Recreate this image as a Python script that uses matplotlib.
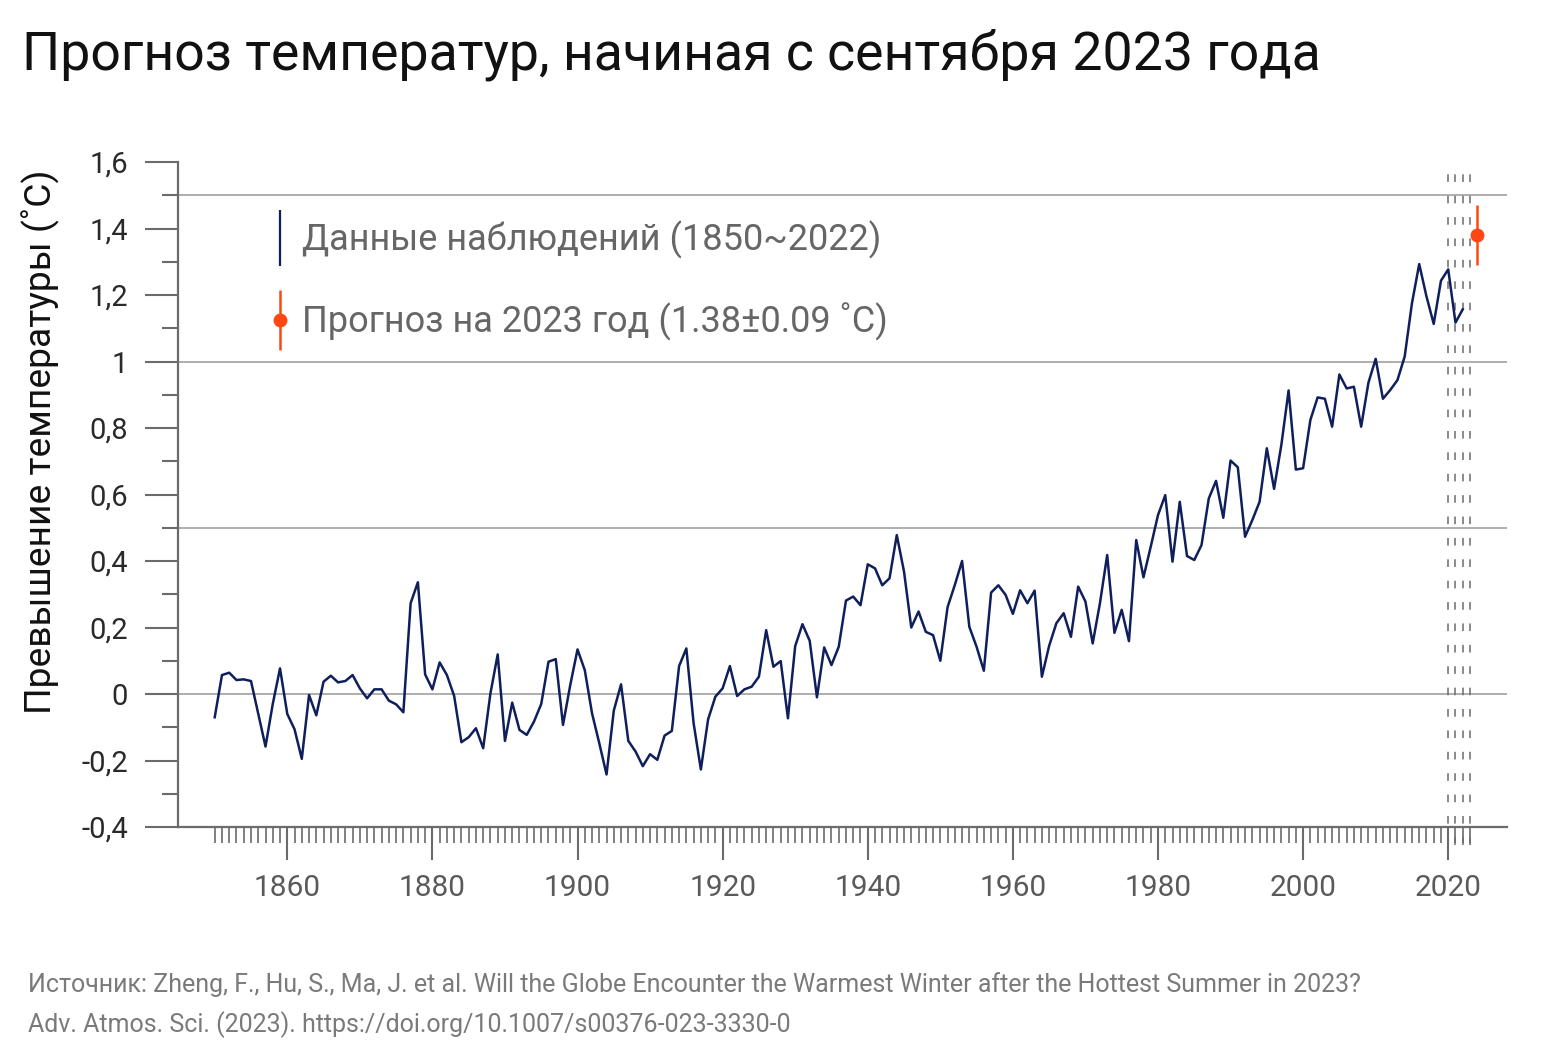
import numpy as np
import matplotlib
matplotlib.use("Agg")
import matplotlib.pyplot as plt
from matplotlib.lines import Line2D

plt.rcParams['font.family'] = ['Roboto', 'DejaVu Sans']

# ---------------- data ----------------
start_year = 1850
anomaly = [
    -0.070, 0.057, 0.064, 0.042, 0.044, 0.039, -0.060, -0.158, -0.030, 0.077,   # 1850-59
    -0.060, -0.106, -0.195, -0.003, -0.064, 0.037, 0.055, 0.035, 0.039, 0.057,  # 1860-69
    0.017, -0.013, 0.014, 0.014, -0.020, -0.031, -0.055, 0.273, 0.336, 0.059,   # 1870-79
    0.014, 0.095, 0.057, -0.006, -0.145, -0.130, -0.103, -0.163, 0.002, 0.119,  # 1880-89
    -0.141, -0.026, -0.108, -0.123, -0.083, -0.030, 0.097, 0.105, -0.093, 0.027, # 1890-99
    0.134, 0.072, -0.058, -0.148, -0.242, -0.050, 0.029, -0.141, -0.173, -0.217, # 1900-09
    -0.181, -0.198, -0.125, -0.111, 0.084, 0.137, -0.088, -0.227, -0.076, -0.008, # 1910-19
    0.017, 0.084, -0.006, 0.014, 0.022, 0.052, 0.192, 0.082, 0.099, -0.073,     # 1920-29
    0.144, 0.210, 0.160, -0.010, 0.140, 0.087, 0.142, 0.281, 0.293, 0.267,      # 1930-39
    0.390, 0.378, 0.327, 0.348, 0.478, 0.368, 0.200, 0.248, 0.187, 0.177,       # 1940-49
    0.100, 0.261, 0.328, 0.400, 0.202, 0.142, 0.070, 0.305, 0.327, 0.298,       # 1950-59
    0.241, 0.312, 0.273, 0.311, 0.052, 0.145, 0.213, 0.243, 0.172, 0.323,       # 1960-69
    0.278, 0.152, 0.273, 0.418, 0.184, 0.253, 0.159, 0.463, 0.351, 0.443,       # 1970-79
    0.538, 0.598, 0.398, 0.578, 0.415, 0.403, 0.448, 0.588, 0.641, 0.530,       # 1980-89
    0.702, 0.682, 0.473, 0.523, 0.578, 0.739, 0.617, 0.749, 0.913, 0.675,       # 1990-99
    0.679, 0.824, 0.892, 0.888, 0.804, 0.961, 0.919, 0.924, 0.804, 0.936,       # 2000-09
    1.008, 0.888, 0.914, 0.944, 1.015, 1.175, 1.293, 1.196, 1.113, 1.243,       # 2010-19
    1.277, 1.117, 1.157,                                                        # 2020-22
]
years = np.arange(start_year, start_year + len(anomaly))

forecast_year_pos = 2024
forecast_value = 1.38
forecast_err = 0.09

dashed_years = [2020, 2021, 2022, 2023]
grid_levels = [0, 0.5, 1.0, 1.5]
ytick_values = [-0.4, -0.2, 0, 0.2, 0.4, 0.6, 0.8, 1.0, 1.2, 1.4, 1.6]
ytick_labels = ["-0,4", "-0,2", "0", "0,2", "0,4", "0,6", "0,8", "1", "1,2", "1,4", "1,6"]
xtick_values = [1860, 1880, 1900, 1920, 1940, 1960, 1980, 2000, 2020]

title = "Прогноз температур, начиная с сентября 2023 года"
ylabel = "Превышение температуры (˚C)"
legend_obs = "Данные наблюдений (1850~2022)"
legend_fc = "Прогноз на 2023 год (1.38±0.09 ˚C)"
source1 = "Источник: Zheng, F., Hu, S., Ma, J. et al. Will the Globe Encounter the Warmest Winter after the Hottest Summer in 2023?"
source2 = "Adv. Atmos. Sci. (2023). https://doi.org/10.1007/s00376-023-3330-0"

# ---------------- styles ----------------
navy = "#0f1f5c"
orange = "#ff4713"
axis_gray = "#6b6b6b"
grid_gray = "#a8a8a8"
label_gray = "#5a5a5a"

fig = plt.figure(figsize=(15.5, 10.63), dpi=100)
ax = fig.add_axes([178/1550, 1-827/1063, (1507-178)/1550, (827-162)/1063])

ax.set_xlim(1844.94, 2028.1)
ax.set_ylim(-0.4, 1.6)

for g in grid_levels:
    ax.axhline(g, color=grid_gray, lw=1.3, zorder=1)

ax.vlines(dashed_years, -0.455, 1.575, colors=axis_gray, lw=1.1,
          linestyles=(0, (5, 9)), clip_on=False, zorder=2)

ax.plot(years, anomaly, color=navy, lw=1.8, zorder=3)
ax.errorbar([forecast_year_pos], [forecast_value], yerr=[forecast_err],
            fmt='o', color=orange, ms=9, elinewidth=1.8, capsize=0, zorder=4)

# spines
for s in ["top", "right"]:
    ax.spines[s].set_visible(False)
for s in ["left", "bottom"]:
    ax.spines[s].set_color(axis_gray)
    ax.spines[s].set_linewidth(1.6)

# ticks
ax.set_yticks(ytick_values)
ax.set_yticklabels(ytick_labels)
ax.set_yticks(np.arange(-0.3, 1.6, 0.2), minor=True)
ax.set_xticks(xtick_values)
ax.set_xticklabels([str(v) for v in xtick_values])
ax.set_xticks(np.arange(1850, 2024, 1), minor=True)

ax.tick_params(axis='y', which='major', length=24, width=1.5, color=axis_gray,
               labelsize=21, labelcolor="#2a2a2a", pad=12)
ax.tick_params(axis='y', which='minor', length=11.5, width=1.5, color=axis_gray)
ax.tick_params(axis='x', which='major', length=24, width=1.5, color=axis_gray,
               labelsize=21.5, labelcolor=label_gray, pad=10)
ax.tick_params(axis='x', which='minor', length=11.5, width=1.2, color=axis_gray)

ax.set_ylabel(ylabel, fontsize=26.8, color="#111111")
ax.yaxis.set_label_coords(-0.089, 0.58)

# legend
h_obs = Line2D([], [], color=navy, marker='|', ms=40, mew=1.6, ls='None')
h_fc_bar = Line2D([], [], color=orange, marker='|', ms=43, mew=1.8, ls='None')
h_fc_dot = Line2D([], [], color=orange, marker='o', ms=9, ls='None')
leg = ax.legend([h_obs, (h_fc_bar, h_fc_dot)], [legend_obs, legend_fc],
                loc='upper left', bbox_to_anchor=(0.058, 0.933), frameon=False,
                fontsize=26, handlelength=0.6, handletextpad=0.3,
                labelspacing=1.2, borderaxespad=0)
for t in leg.get_texts():
    t.set_color("#666666")

fig.text(22/1550, 1-55/1063, title, fontsize=38.6, color="#111111", va='center', ha='left')
fig.text(28/1550, 1-985/1063, source1, fontsize=18, color="#7a7a7a", va='center', ha='left')
fig.text(28/1550, 1-1025/1063, source2, fontsize=18, color="#7a7a7a", va='center', ha='left')

fig.savefig("out.png", dpi=100)
